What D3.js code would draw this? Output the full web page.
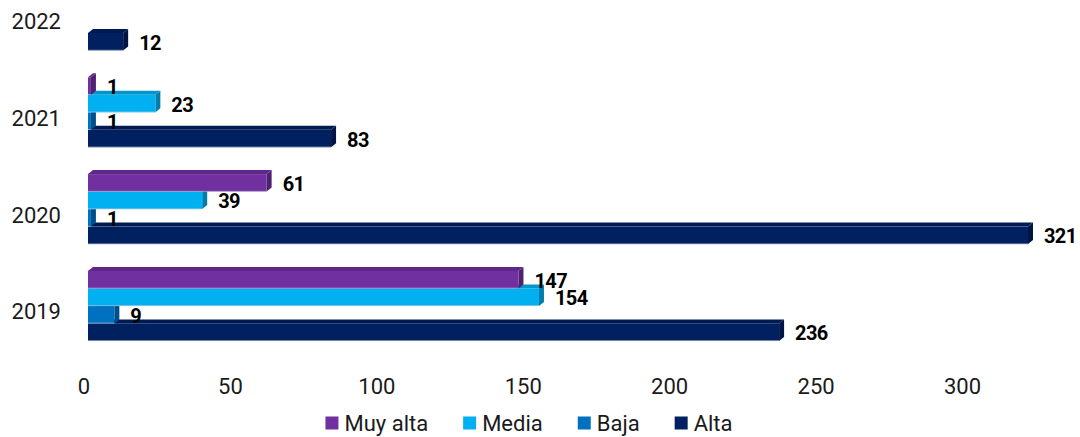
<!DOCTYPE html>
<html>
<head>
<meta charset="utf-8">
<script src="https://cdn.jsdelivr.net/npm/d3@7"></script>
<style>
  html, body { margin: 0; padding: 0; background: #ffffff; }
  svg { display: block; font-family: Roboto, "Noto Sans", sans-serif; }
</style>
</head>
<body>
<svg id="chart" width="1080" height="437"></svg>
<script>
const years = ["2022", "2021", "2020", "2019"];
const seriesNames = ["Muy alta", "Media", "Baja", "Alta"];
const muyAlta = [null, 1, 61, 147];
const media   = [null, 23, 39, 154];
const baja    = [null, 1, 1, 9];
const alta    = [12, 83, 321, 236];
const xTicks  = [0, 50, 100, 150, 200, 250, 300];
const frontColors = ["#7030A0", "#00B0F0", "#0070C0", "#002060"];
const topColors   = ["#5F2888", "#0096CC", "#005FA3", "#001B52"];
const sideColors  = ["#4F2171", "#007DAA", "#004F88", "#001544"];

const seriesValues = [muyAlta, media, baja, alta];

const svg = d3.select("#chart");
const W = 1080, H = 437;

const x = d3.scaleLinear().domain([0, 300]).range([83.5, 962]);
const frontShift = 4.5;
const depthX = 5, depthY = 4;

const y = d3.scaleBand().domain(years).range([-32.9, 354.3])
  .paddingInner(0.277).paddingOuter(0.1385);
const ySub = d3.scaleBand().domain(seriesNames).range([0, y.bandwidth()]).padding(0);

// bars
const groups = svg.append("g").selectAll("g.year")
  .data(years).join("g")
  .attr("class", "year")
  .attr("transform", d => `translate(0,${y(d)})`);

groups.each(function(year, yi) {
  const g = d3.select(this);
  // draw bottom slot first so upper fronts overlay lower top faces
  for (let si = seriesNames.length - 1; si >= 0; si--) {
    const v = seriesValues[si][yi];
    if (v == null) continue;
    const x0 = x(0) + frontShift;
    const x1 = x(v) + frontShift;
    const y0 = ySub(seriesNames[si]);
    const h = ySub.bandwidth();
    const bar = g.append("g");
    // top face
    bar.append("path")
      .attr("d", `M${x0},${y0} L${x0 + depthX},${y0 - depthY} L${x1 + depthX},${y0 - depthY} L${x1},${y0} Z`)
      .attr("fill", topColors[si]);
    // right face
    bar.append("path")
      .attr("d", `M${x1},${y0} L${x1 + depthX},${y0 - depthY} L${x1 + depthX},${y0 + h - depthY} L${x1},${y0 + h} Z`)
      .attr("fill", sideColors[si]);
    // front face
    bar.append("rect")
      .attr("x", x0).attr("y", y0)
      .attr("width", Math.max(0, x1 - x0)).attr("height", h)
      .attr("fill", frontColors[si]);
    // subtle light bottom edge
    bar.append("line")
      .attr("x1", x0).attr("x2", x1)
      .attr("y1", y0 + h - 0.25).attr("y2", y0 + h - 0.25)
      .attr("stroke", "#c9d0dc").attr("stroke-width", 0.6);
  }
});

// value labels (drawn after all bars)
groups.each(function(year, yi) {
  const g = d3.select(this);
  seriesNames.forEach((s, si) => {
    const v = seriesValues[si][yi];
    if (v == null) return;
    g.append("text")
      .attr("x", x(v) + frontShift + 16)
      .attr("y", ySub(s) + ySub.bandwidth() / 2 + 1)
      .attr("dominant-baseline", "central")
      .attr("font-size", 20)
      .attr("font-weight", 700)
      .attr("letter-spacing", "-0.6")
      .attr("fill", "#000")
      .text(v);
  });
});

// category labels
svg.append("g").selectAll("text")
  .data(years).join("text")
  .attr("x", 61)
  .attr("y", d => y(d) + y.bandwidth() / 2 + 6)
  .attr("text-anchor", "end")
  .attr("dominant-baseline", "central")
  .attr("font-size", 22)
  .attr("fill", "#1a1a1a")
  .text(d => d);

// x axis (labels only)
const xAxis = d3.axisBottom(x).tickValues(xTicks).tickSize(0).tickPadding(0);
const axG = svg.append("g").attr("transform", "translate(0,378)").call(xAxis);
axG.select(".domain").remove();
axG.selectAll("text")
  .attr("font-size", 22)
  .attr("font-family", "Roboto, 'Noto Sans', sans-serif")
  .attr("fill", "#1a1a1a")
  .attr("dy", "0.71em");

// legend
const legend = svg.append("g");
const items = legend.selectAll("g").data(seriesNames).join("g");
items.append("rect")
  .attr("width", 13).attr("height", 13)
  .attr("y", -6.5)
  .attr("fill", (d, i) => frontColors[i]);
items.append("text")
  .attr("x", 19)
  .attr("dominant-baseline", "central")
  .attr("font-size", 22)
  .attr("fill", "#1a1a1a")
  .text(d => d);
let cx = 0;
const positions = [];
items.each(function() {
  const tw = d3.select(this).select("text").node().getComputedTextLength();
  positions.push(cx);
  cx += 19 + tw + 35;
});
const totalW = cx - 35;
const startX = 529 - totalW / 2;
items.attr("transform", (d, i) => `translate(${startX + positions[i]},423)`);
</script>
</body>
</html>
